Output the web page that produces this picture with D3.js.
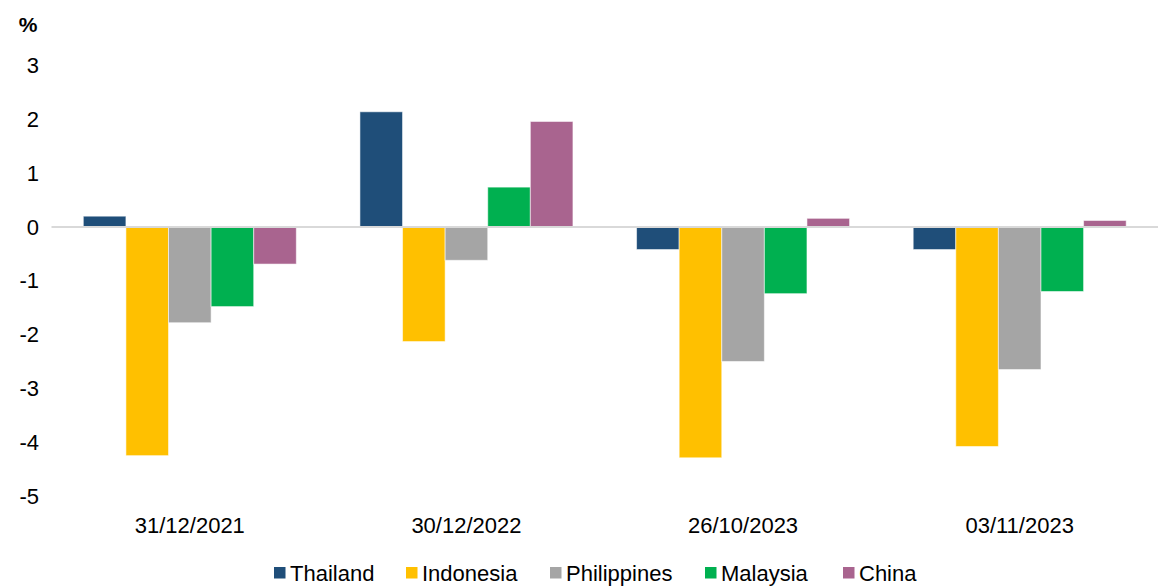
<!DOCTYPE html>
<html>
<head>
<meta charset="utf-8">
<script src="https://cdn.jsdelivr.net/npm/d3@7"></script>
<style>
  html, body { margin: 0; padding: 0; background: #fff; }
  svg { display: block; font-family: "Liberation Sans", Arial, sans-serif; }
</style>
</head>
<body>
<svg id="chart" width="1161" height="587"></svg>
<script>
// Dates on the category axis
const categories = ["31/12/2021", "30/12/2022", "26/10/2023", "03/11/2023"];
// Countries, in legend and bar order
const seriesNames = ["Thailand", "Indonesia", "Philippines", "Malaysia", "China"];
// Values (%) per country, one per date
const thailand    = [0.20, 2.14, -0.42, -0.42];
const indonesia   = [-4.25, -2.13, -4.29, -4.08];
const philippines = [-1.78, -0.62, -2.50, -2.65];
const malaysia    = [-1.48, 0.74, -1.24, -1.20];
const china       = [-0.69, 1.96, 0.16, 0.12];
// Y axis ticks
const yTicks = [3, 2, 1, 0, -1, -2, -3, -4, -5];

const seriesValues = [thailand, indonesia, philippines, malaysia, china];
const colors = ["#1F4E79", "#FFC000", "#A5A5A5", "#00B050", "#A9648F"];

const svg = d3.select("#chart");

const x0 = d3.scaleBand()
  .domain(categories)
  .range([51.5, 1158])
  .paddingInner(0.23)
  .paddingOuter(0.115);

const x1 = d3.scaleBand()
  .domain(seriesNames)
  .range([0, x0.bandwidth()])
  .padding(0);

const y = d3.scaleLinear()
  .domain([-5, 3])
  .range([496, 65.5]);

// Y tick labels
svg.append("g")
  .selectAll("text")
  .data(yTicks)
  .join("text")
  .attr("x", 39)
  .attr("y", d => y(d))
  .attr("dy", "0.35em")
  .attr("text-anchor", "end")
  .attr("font-size", 22)
  .attr("fill", "#000")
  .text(d => d);

// Unit label
svg.append("text")
  .attr("x", 28)
  .attr("y", 25)
  .attr("dy", "0.35em")
  .attr("text-anchor", "middle")
  .attr("font-size", 21)
  .attr("font-weight", "bold")
  .attr("fill", "#000")
  .text("%");

// Bars
const groups = svg.append("g")
  .selectAll("g")
  .data(categories)
  .join("g")
  .attr("transform", d => `translate(${x0(d)},0)`);

groups.selectAll("rect")
  .data((d, i) => seriesNames.map((s, k) => ({ s, k, v: seriesValues[k][i] })))
  .join("rect")
  .attr("x", d => x1(d.s))
  .attr("width", x1.bandwidth())
  .attr("y", d => y(Math.max(0, d.v)))
  .attr("height", d => Math.abs(y(d.v) - y(0)))
  .attr("fill", d => colors[d.k])
  .attr("stroke", "rgba(255,255,255,0.55)")
  .attr("stroke-width", 1);

// Zero line
svg.append("line")
  .attr("x1", 51.5)
  .attr("x2", 1158)
  .attr("y1", y(0))
  .attr("y2", y(0))
  .attr("stroke", "#d9d9d9")
  .attr("stroke-width", 2);

// Category labels
svg.append("g")
  .selectAll("text")
  .data(categories)
  .join("text")
  .attr("x", d => x0(d) + x0.bandwidth() / 2)
  .attr("y", 525)
  .attr("dy", "0.35em")
  .attr("text-anchor", "middle")
  .attr("font-size", 22)
  .attr("fill", "#000")
  .text(d => d);

// Legend
const legendX = [274, 406, 550, 705, 843];
const legend = svg.append("g")
  .selectAll("g")
  .data(seriesNames)
  .join("g")
  .attr("transform", (d, i) => `translate(${legendX[i]},567)`);

legend.append("rect")
  .attr("width", 11.5)
  .attr("height", 11.5)
  .attr("fill", (d, i) => colors[i]);

legend.append("text")
  .attr("x", 16)
  .attr("y", 6)
  .attr("dy", "0.35em")
  .attr("font-size", 22)
  .attr("fill", "#000")
  .text(d => d);
</script>
</body>
</html>
